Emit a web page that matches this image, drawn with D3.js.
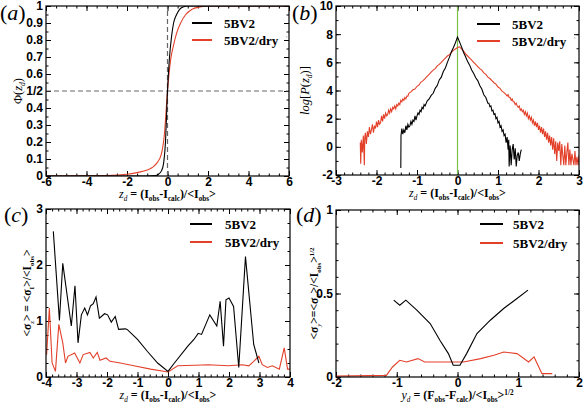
<!DOCTYPE html>
<html><head><meta charset="utf-8">
<script src="https://cdn.jsdelivr.net/npm/d3@7"></script>
<style>body{margin:0;background:#fff} svg{display:block}</style>
</head><body>
<svg id="c" width="583" height="403"></svg>
<script>
const seriesNames = ["5BV2", "5BV2/dry"];
const colors = ["#000000", "#e3402a"];

// Panel (a): cumulative distribution
const aBlackZ   = [-6, -1, -0.6, -0.45, -0.3, -0.2, -0.1, 0, 0.1, 0.2, 0.3, 0.45, 0.6, 0.8, 1.0, 6];
const aBlackPhi = [0, 0, 0.002, 0.01, 0.03, 0.07, 0.2, 0.5, 0.7, 0.82, 0.9, 0.95, 0.98, 0.995, 1, 1];
const aRedZ     = [-6, -3, -2, -1.5, -1, -0.75, -0.5, -0.3, -0.15, 0, 0.15, 0.3, 0.45, 0.65, 0.9, 1.2, 1.6, 2, 6];
const aRedPhi   = [0, 0.003, 0.01, 0.02, 0.035, 0.05, 0.08, 0.13, 0.25, 0.5, 0.68, 0.77, 0.84, 0.9, 0.95, 0.98, 0.995, 1, 1];
const aYTicks = [0, 0.1, 0.2, 0.3, 0.4, 0.5, 0.6, 0.7, 0.8, 0.9, 1];
const aYTickLabels = ["0", "0.1", "0.2", "0.3", "0.4", "1/2", "0.6", "0.7", "0.8", "0.9", "1"];

// Panel (b): log distribution
const bBlackZ = [-1.400, -1.395, -1.375, -1.350, -1.325, -1.300, -1.275, -1.250, -1.225, -1.200, -1.175, -1.150, -1.125, -1.100, -1.075, -1.050, -1.025, -1.000, -0.975, -0.950, -0.925, -0.900, -0.875, -0.850, -0.825, -0.800,
  -0.75, -0.70, -0.65, -0.60, -0.55, -0.50, -0.45, -0.40, -0.35, -0.30, -0.25, -0.20, -0.15, -0.10, -0.05, 0.00, 0.05, 0.10, 0.15, 0.20, 0.25, 0.30, 0.35, 0.40, 0.45, 0.50, 0.55, 0.60, 0.65, 0.70, 0.75,
  0.775, 0.800, 0.825, 0.850, 0.875, 0.900, 0.925, 0.950, 0.975, 1.000, 1.025, 1.050, 1.075, 1.100, 1.125, 1.150, 1.175, 1.200, 1.225, 1.250, 1.265, 1.275, 1.300, 1.325, 1.350, 1.375, 1.400, 1.425, 1.450, 1.475, 1.500, 1.525, 1.550, 1.575];
const bBlackV = [-1.5, 0.8, 1.3, 0.9, 1.2, 1.0, 1.5, 1.2, 1.6, 1.4, 1.5, 1.8, 1.6, 1.9, 1.8, 2.2, 1.9, 2.2, 2.4, 2.3, 2.6, 2.5, 2.8, 2.7, 3.0, 2.9,
  3.25, 3.4, 3.65, 3.8, 4.15, 4.35, 4.75, 4.95, 5.35, 5.6, 6.0, 6.35, 6.75, 7.05, 7.4, 7.8, 7.45, 7.1, 6.7, 6.4, 6.05, 5.8, 5.45, 5.2, 4.9, 4.7, 4.35, 4.1, 3.7, 3.5, 3.1,
  3.1, 2.85, 2.9, 2.55, 2.6, 2.3, 2.35, 2.0, 2.1, 1.7, 1.8, 1.4, 1.5, 1.1, 1.2, 0.8, 0.9, 0.3, 0.7, -0.2, 0.5, -1.4, 0.1, -1.3, -0.2, 0.2, -0.9, -0.1, -1.4, -0.6, -0.4, -1.0, -0.5, -0.2];
const bRedZ = [-2.400, -2.390, -2.375, -2.350, -2.325, -2.300, -2.290, -2.275, -2.250, -2.225, -2.200, -2.175, -2.150, -2.125, -2.100, -2.075, -2.050, -2.025, -2.000, -1.975, -1.950, -1.925, -1.900, -1.875, -1.850, -1.825, -1.800,
  -1.775, -1.750, -1.725, -1.700, -1.675, -1.650, -1.625, -1.600, -1.575, -1.550, -1.525, -1.500, -1.475, -1.450, -1.425, -1.400, -1.375, -1.350, -1.325, -1.300, -1.275, -1.250, -1.225, -1.200,
  -1.15, -1.10, -1.05, -1.00, -0.95, -0.90, -0.85, -0.80, -0.75, -0.70, -0.65, -0.60, -0.55, -0.50, -0.45, -0.40, -0.35, -0.30, -0.25, -0.20, -0.15, -0.10, -0.05, 0.00,
  0.05, 0.10, 0.15, 0.20, 0.25, 0.30, 0.35, 0.40, 0.45, 0.50, 0.55, 0.60, 0.65, 0.70, 0.75, 0.80, 0.85, 0.90, 0.95, 1.00, 1.05, 1.10, 1.15,
  1.200, 1.225, 1.250, 1.275, 1.300, 1.325, 1.350, 1.375, 1.400, 1.425, 1.450, 1.475, 1.500, 1.525, 1.550, 1.575, 1.600, 1.625, 1.650, 1.675, 1.700, 1.725, 1.750, 1.775, 1.800, 1.825, 1.850, 1.875, 1.900, 1.925, 1.950, 1.975,
  2.000, 2.025, 2.050, 2.075, 2.100, 2.125, 2.150, 2.175, 2.200, 2.225, 2.250, 2.275, 2.300, 2.325, 2.350, 2.375, 2.400, 2.425, 2.450, 2.475, 2.500, 2.525, 2.550, 2.575, 2.600, 2.625, 2.650, 2.675, 2.700, 2.725, 2.750, 2.775,
  2.800, 2.825, 2.850, 2.875, 2.900, 2.925, 2.950, 2.975, 3.000];
const bRedV = [0.3, -1.2, 0.5, -0.4, 0.8, -1.3, 0.6, 1.0, 0.2, 1.1, 0.7, 1.4, 0.9, 1.2, 1.6, 1.0, 1.5, 1.3, 1.8, 1.4, 1.9, 1.6, 1.7, 2.2, 1.8, 2.3, 2.0,
  2.4, 2.2, 2.3, 2.6, 2.4, 2.7, 2.5, 2.8, 2.7, 2.9, 2.7, 3.0, 2.9, 3.1, 3.0, 3.3, 3.2, 3.4, 3.3, 3.5, 3.4, 3.6, 3.6, 3.8,
  3.9, 4.05, 4.1, 4.3, 4.4, 4.6, 4.7, 4.85, 5.0, 5.15, 5.3, 5.45, 5.55, 5.75, 5.85, 6.0, 6.15, 6.3, 6.45, 6.55, 6.7, 6.85, 6.95, 7.05,
  7.1, 6.95, 6.8, 6.6, 6.45, 6.3, 6.15, 6.0, 5.85, 5.7, 5.55, 5.45, 5.25, 5.15, 4.95, 4.85, 4.7, 4.55, 4.45, 4.25, 4.15, 3.95, 3.85,
  3.7, 3.6, 3.7, 3.5, 3.5, 3.3, 3.4, 3.2, 3.2, 3.0, 3.1, 2.9, 2.8, 2.9, 2.6, 2.7, 2.5, 2.6, 2.3, 2.5, 2.2, 2.4, 2.0, 2.2, 1.9, 2.1, 1.7, 1.9, 1.5, 1.8, 1.4, 1.7,
  1.2, 1.5, 1.0, 1.4, 0.9, 1.3, 0.7, 1.1, 0.5, 1.0, 0.3, 0.8, 0.1, 0.7, -0.2, 0.6, -0.5, 0.4, -1.0, 0.3, -0.3, 0.4, -1.3, 0.2, -0.6, -1.3, 0.1, -1.3, -0.4, 0.3, -1.3, -0.2,
  -1.3, -0.5, -0.9, -1.3, -0.3, -1.3, -0.7, -1.3, -0.6];

// Panel (c)
const cBlackZ = [-3.76, -3.56, -3.45, -3.17, -3.05, -2.95, -2.84, -2.73, -2.64, -2.54, -2.45, -2.36, -2.25, -2.08, -1.98, -1.86, -1.73, -1.62, -1.40, -1.34, -1.0, -0.68, -0.34, 0.0,
  0.21, 0.65, 0.85, 0.99, 1.1, 1.37, 1.6, 1.71, 1.82, 1.9, 2.0, 2.15, 2.32, 2.54, 2.81, 2.98];
const cBlackS = [2.6, 1.01, 2.03, 0.91, 1.63, 0.61, 1.11, 1.23, 1.11, 1.27, 1.31, 1.43, 1.05, 1.13, 1.11, 0.98, 1.08, 0.85, 0.86, 0.85, 0.67, 0.46, 0.25, 0.1,
  0.25, 0.55, 0.67, 0.78, 0.76, 1.11, 0.91, 1.35, 0.55, 1.38, 1.41, 1.26, 0.17, 2.15, 0.58, 0.25];
const cRedZ = [-3.98, -3.89, -3.8, -3.69, -3.58, -3.45, -3.36, -3.28, -3.06, -2.89, -2.78, -2.56, -2.45, -2.32, -2.23, -2.03, -1.9, -1.56, -1.12, -0.57, 0.0,
  0.32, 0.88, 1.32, 1.98, 2.43, 2.65, 2.81, 2.98, 3.09, 3.26, 3.42, 3.65, 3.81, 3.92, 4.0];
const cRedS = [0.4, 1.23, 0.25, 0.1, 0.94, 0.61, 0.25, 0.37, 0.43, 0.25, 0.40, 0.44, 0.34, 0.44, 0.30, 0.34, 0.28, 0.25, 0.2, 0.14, 0.09,
  0.2, 0.21, 0.22, 0.2, 0.22, 0.2, 0.28, 0.37, 0.22, 0.17, 0.2, 0.14, 0.52, 0.14, 0.14];

// Panel (d)
const dBlackY = [-1.05, -0.95, -0.85, -0.67, -0.45, -0.29, -0.15, -0.07, 0.04, 0.15, 0.32, 0.54, 0.76, 0.98, 1.16];
const dBlackS = [0.46, 0.43, 0.46, 0.40, 0.32, 0.22, 0.14, 0.07, 0.07, 0.14, 0.26, 0.34, 0.41, 0.47, 0.52];
const dRedY = [-2, -1.17, -1.07, -0.95, -0.84, -0.65, -0.54, -0.18, 0.1, 0.38, 0.6, 0.76, 0.98, 1.17, 1.26, 1.39, 1.56];
const dRedS = [0.005, 0.01, 0.06, 0.10, 0.09, 0.11, 0.09, 0.09, 0.09, 0.11, 0.13, 0.15, 0.14, 0.09, 0.12, 0.02, 0.02];

const svg = d3.select("#c");
const SERIF = "'Liberation Serif','Times New Roman',serif";
const SANS = "'Liberation Sans',Arial,sans-serif";

function rich(sel, parts, size) {
  let shift = 0;
  parts.forEach(p => {
    const t = sel.append("tspan").text(p.t);
    let target = p.sub ? 3 : (p.sup ? -4 : 0);
    if (target !== shift) { t.attr("dy", target - shift); shift = target; }
    if (p.sub || p.sup) t.attr("font-size", size * 0.6);
    if (p.i) t.attr("font-style", "italic").attr("font-weight", "normal");
  });
}

function rng(a, b, s) {
  const out = [];
  const n = Math.round((b - a) / s);
  for (let i = 0; i <= n; i++) out.push(+(a + i * s).toFixed(6));
  return out;
}
const intFmt = d => String(Math.round(d));

function panel(o) {
  const x = d3.scaleLinear().domain(o.xd).range([o.l, o.r]);
  const y = d3.scaleLinear().domain(o.yd).range([o.b, o.t]);
  const g = svg.append("g");
  const xMaj = rng(o.xd[0], o.xd[1], o.xs), xMin = rng(o.xd[0], o.xd[1], o.xm);
  const yMaj = o.yt || rng(o.yd[0], o.yd[1], o.ys), yMin = rng(o.yd[0], o.yd[1], o.ym);
  const add = (axis, tr) => {
    const a = g.append("g").attr("transform", tr).call(axis);
    a.select(".domain").remove();
    a.selectAll("line").attr("stroke", "#000").attr("stroke-width", 1);
    a.selectAll("text").attr("font-family", SANS).attr("font-weight", "bold").attr("font-size", 12).attr("fill", "#000");
    return a;
  };
  add(d3.axisBottom(x).tickValues(xMin).tickSize(-2.5).tickFormat(""), `translate(0,${o.b})`);
  add(d3.axisTop(x).tickValues(xMin).tickSize(-2.5).tickFormat(""), `translate(0,${o.t})`);
  add(d3.axisLeft(y).tickValues(yMin).tickSize(-2.5).tickFormat(""), `translate(${o.l},0)`);
  add(d3.axisRight(y).tickValues(yMin).tickSize(-2.5).tickFormat(""), `translate(${o.r},0)`);
  add(d3.axisBottom(x).tickValues(xMaj).tickSize(-5).tickPadding(1).tickFormat(intFmt), `translate(0,${o.b})`);
  add(d3.axisTop(x).tickValues(xMaj).tickSize(-5).tickFormat(""), `translate(0,${o.t})`);
  add(d3.axisLeft(y).tickValues(yMaj).tickSize(-5).tickPadding(3).tickFormat(o.yf), `translate(${o.l},0)`);
  add(d3.axisRight(y).tickValues(yMaj).tickSize(-5).tickFormat(""), `translate(${o.r},0)`);

  const clipId = "clip" + o.id;
  svg.append("clipPath").attr("id", clipId).append("rect")
    .attr("x", o.l).attr("y", o.t).attr("width", o.r - o.l).attr("height", o.b - o.t);
  const plot = g.append("g").attr("clip-path", `url(#${clipId})`);
  if (o.extra) o.extra(plot, x, y);
  o.series.forEach(s => {
    const pts = s.x.map((v, k) => [v, s.y[k]]);
    plot.append("path").datum(pts)
      .attr("fill", "none").attr("stroke", colors[s.c]).attr("stroke-width", 1.1)
      .attr("d", d3.line().x(d => x(d[0])).y(d => y(d[1])).curve(s.curve || d3.curveLinear));
  });
  g.append("rect").attr("x", o.l).attr("y", o.t).attr("width", o.r - o.l).attr("height", o.b - o.t)
    .attr("fill", "none").attr("stroke", "#000").attr("stroke-width", 1.2);

  // legend
  seriesNames.forEach((n, i) => {
    const ly = o.leg.y + i * o.leg.dy;
    g.append("line").attr("x1", o.leg.x1).attr("x2", o.leg.x2).attr("y1", ly).attr("y2", ly)
      .attr("stroke", colors[i]).attr("stroke-width", 2);
    g.append("text").attr("x", o.leg.tx).attr("y", ly + 4.5).text(n)
      .attr("font-family", SERIF).attr("font-weight", "bold").attr("font-size", 13);
    if (o.leg.mark && i === 1) {
      g.append("text").attr("x", o.leg.tx + 62).attr("y", ly + 2).text("'")
        .attr("font-family", SERIF).attr("font-size", 8).attr("fill", "#999");
    }
  });
  // panel letter
  const lt = g.append("text").attr("x", o.lab.x).attr("y", o.lab.y)
    .attr("font-family", SERIF).attr("font-size", 22);
  lt.append("tspan").text("(");
  lt.append("tspan").attr("font-style", "italic").text(o.letter);
  lt.append("tspan").text(")");
  // x title
  const xt = g.append("text").attr("x", (o.l + o.r) / 2).attr("y", o.b + 22).attr("text-anchor", "middle")
    .attr("font-family", SERIF).attr("font-weight", "bold").attr("font-size", 12);
  rich(xt, o.xtitle, 12);
  const yt = g.append("text").attr("transform", `translate(${o.ytx},${(o.t + o.b) / 2}) rotate(-90)`)
    .attr("text-anchor", "middle").attr("font-family", SERIF).attr("font-size", o.yts || 12.5)
    .attr("font-weight", o.ytb ? "bold" : "normal");
  rich(yt, o.ytitle, o.yts || 12.5);
}

const zTitle = [{t: "z", i: true}, {t: "d", sub: true, i: true}, {t: " = (I"}, {t: "obs", sub: true}, {t: "-I"}, {t: "calc", sub: true}, {t: ")/<I"}, {t: "obs", sub: true}, {t: ">"}];

panel({
  id: "a", letter: "a", l: 46, r: 289, t: 6, b: 176, xd: [-6, 6], xs: 2, xm: 0.5, yd: [0, 1], ys: 0.1, ym: 0.05,
  yt: aYTicks, yf: (d, i) => aYTickLabels[i],
  series: [{x: aRedZ, y: aRedPhi, c: 1, curve: d3.curveMonotoneX}, {x: aBlackZ, y: aBlackPhi, c: 0, curve: d3.curveMonotoneX}],
  extra: (p, x, y) => {
    p.append("line").attr("x1", x(0)).attr("x2", x(0)).attr("y1", y(0)).attr("y2", y(1))
      .attr("stroke", "#666").attr("stroke-dasharray", "5,3").attr("stroke-width", 1.2);
    p.append("line").attr("x1", x(-6)).attr("x2", x(6)).attr("y1", y(0.5)).attr("y2", y(0.5))
      .attr("stroke", "#666").attr("stroke-dasharray", "5,3").attr("stroke-width", 1.2);
  },
  leg: {x1: 192, x2: 212, tx: 224, y: 23, dy: 17, mark: true},
  lab: {x: 0, y: 20},
  xtitle: zTitle,
  ytitle: [{t: "Φ("}, {t: "z", i: true}, {t: "d", sub: true, i: true}, {t: ")"}], ytx: 22
});

panel({
  id: "b", letter: "b", l: 336, r: 579, t: 6, b: 175, xd: [-3, 3], xs: 1, xm: 0.2, yd: [-2, 10], ys: 2, ym: 1,
  yf: intFmt,
  series: [{x: bRedZ, y: bRedV, c: 1}, {x: bBlackZ, y: bBlackV, c: 0}],
  extra: (p, x, y) => {
    p.append("line").attr("x1", x(0)).attr("x2", x(0)).attr("y1", y(-2)).attr("y2", y(10))
      .attr("stroke", "#7cc24a").attr("stroke-width", 1.2);
  },
  leg: {x1: 477, x2: 500, tx: 512, y: 24, dy: 17, mark: true},
  lab: {x: 292, y: 20},
  xtitle: zTitle,
  ytitle: [{t: "log", i: true}, {t: "["}, {t: "P", i: true}, {t: "("}, {t: "z", i: true}, {t: "d", sub: true, i: true}, {t: ")]"}], ytx: 309
});

panel({
  id: "c", letter: "c", l: 46, r: 290, t: 209, b: 377, xd: [-4, 4], xs: 1, xm: 0.2, yd: [0, 3], ys: 1, ym: 0.25,
  yf: intFmt,
  series: [{x: cRedZ, y: cRedS, c: 1}, {x: cBlackZ, y: cBlackS, c: 0}],
  leg: {x1: 190, x2: 212, tx: 225, y: 224, dy: 18},
  lab: {x: 4, y: 222},
  xtitle: zTitle,
  ytitle: [{t: "<σ"}, {t: "z", sub: true, i: true}, {t: "> = <σ"}, {t: "I", sub: true}, {t: ">/<I"}, {t: "obs", sub: true}, {t: ">"}], ytx: 31, ytb: true, yts: 11.5
});

panel({
  id: "d", letter: "d", l: 336, r: 579, t: 210, b: 377, xd: [-2, 2], xs: 1, xm: 0.2, yd: [0, 1], ys: 0.5, ym: 0.1,
  yt: [0, 0.5, 1], yf: d => (d === 0.5 ? "0.5" : intFmt(d)),
  series: [{x: dRedY, y: dRedS, c: 1}, {x: dBlackY, y: dBlackS, c: 0}],
  leg: {x1: 480, x2: 503, tx: 513, y: 224, dy: 19},
  lab: {x: 296, y: 222},
  xtitle: [{t: "y", i: true}, {t: "d", sub: true, i: true}, {t: " = (F"}, {t: "obs", sub: true}, {t: "-F"}, {t: "calc", sub: true}, {t: ")/<I"}, {t: "obs", sub: true}, {t: ">"}, {t: "1/2", sup: true}],
  ytitle: [{t: "<σ"}, {t: "y", sub: true, i: true}, {t: ">=<σ"}, {t: "F", sub: true}, {t: ">/<I"}, {t: "obs", sub: true}, {t: ">"}, {t: "1/2", sup: true}], ytx: 318, ytb: true, yts: 11.5
});
</script>
</body></html>
